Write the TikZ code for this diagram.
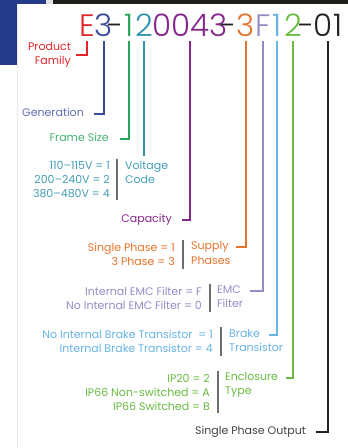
\documentclass[tikz,border=0pt]{standalone}
\usepackage{fontspec}
\setmainfont{Poppins}
\newfontfamily\lightfont{Poppins Light}
\usetikzlibrary{positioning}

\definecolor{frameBlue}{HTML}{263A8C}
\definecolor{photoDark}{HTML}{1E1E1A}
\definecolor{barGrey}{HTML}{6E6E6E}
\definecolor{cRed}{HTML}{E4252C}
\definecolor{cNavy}{HTML}{3A4A9E}
\definecolor{cGreen}{HTML}{25A65A}
\definecolor{cTeal}{HTML}{2F93B0}
\definecolor{cPurple}{HTML}{86288B}
\definecolor{cOrange}{HTML}{E8732B}
\definecolor{cLav}{HTML}{978AC5}
\definecolor{cSky}{HTML}{66B4E4}
\definecolor{cLime}{HTML}{69BC41}
\definecolor{cInk}{HTML}{222222}

\begin{document}
\begin{tikzpicture}[x=1pt, y=-1pt,
    font=\fontsize{11}{14}\selectfont,
    digit/.style={anchor=base, inner sep=0pt, font=\lightfont\fontsize{31}{31}\selectfont},
    lbl/.style={inner sep=0pt, anchor=mid east},
    ttl/.style={inner sep=0pt, anchor=mid west},
    val/.style={inner sep=0pt, anchor=east, align=right},
    hook/.style={line width=1.8pt, shorten <=5pt},
    bar/.style={line width=1.3pt, draw=barGrey}
  ]
  \useasboundingbox (0,0) rectangle (348,448);
  % backdrop
  \fill[white] (0,0) rectangle (348,448);
  \fill[frameBlue] (0,0) rectangle (46,65);
  \fill[black!12] (46,0) rectangle (53,4);
  \fill[photoDark] (53,0) rectangle (348,4);
  \fill[black!8] (17,4) rectangle (348,448);
  \fill[white] (18,4) rectangle (348,448);

  % model code
  \node[digit, text=cRed]    (cE)    at (87,36)  {E};
  \node[digit, text=cNavy]   (c3)    at (104,36) {3};
  \node[digit, text=cInk]    (d1)    at (116,36) {-};
  \node[digit, text=cGreen]  (c1)    at (129,36) {1};
  \node[digit, text=cTeal]   (c2)    at (144,36) {2};
  \node[digit, text=cPurple] (c0043) at (190,36) {0043};
  \node[digit, text=cInk]    (d2)    at (229,36) {-};
  \node[digit, text=cOrange] (c3o)   at (246,36) {3};
  \node[digit, text=cLav]    (cF)    at (263,36) {F};
  \node[digit, text=cSky]    (c1s)   at (277,36) {1};
  \node[digit, text=cLime]   (c2l)   at (293,36) {2};
  \node[digit, text=cInk]    (d3)    at (307,36) {-};
  \node[digit, text=cInk]    (c01)   at (328,36) {01};

  % labels
  \node[val, text=cRed] (prod) at (71,55) {Product\\Family};
  \node[lbl, text=cNavy!80] (gen) at (84,114) {Generation};
  \node[lbl, text=cGreen!85] (frm) at (109,139) {Frame Size};

  \node[val, text=cTeal!90] (volV) at (110,180) {110–115V = 1\\200–240V = 2\\380–480V = 4};
  \node[inner sep=0pt, anchor=west, align=left, text=cTeal!90] (volT) at (125,172.5) {Voltage\\Code};

  \node[lbl, text=cPurple] (cap) at (172,220) {Capacity};

  \node[val, text=cOrange] (supV) at (175,254.5) {Single Phase = 1\\3 Phase = 3};
  \node[ttl, text=cOrange] (supT1) at (191,247) {Supply};
  \node[ttl, text=cOrange] (supT2) at (191,262) {Phases};

  \node[val, text=cLav] (emcV) at (202,298) {Internal EMC Filter = F\\No Internal EMC Filter = 0};
  \node[ttl, text=cLav] (emcT1) at (217,291) {EMC};
  \node[ttl, text=cLav] (emcT2) at (217,305) {Filter};

  \node[val, text=cSky] (brkV) at (213,341.5) {No Internal Brake Transistor\ \ = 1\\Internal Brake Transistor = 4};
  \node[ttl, text=cSky] (brkT1) at (229,335) {Brake};
  \node[ttl, text=cSky] (brkT2) at (229,349) {Transistor};

  \node[val, text=cLime] (encV) at (210,392) {IP20 = 2\\IP66 Non-switched = A\\IP66 Switched = B};
  \node[ttl, text=cLime] (encT1) at (225,378) {Enclosure};
  \node[ttl, text=cLime] (encT2) at (225,392) {Type};

  \node[lbl, text=cInk!85] (out) at (306,432) {Single Phase Output};

  % separators
  \draw[bar] ([xshift=7pt,yshift=3pt]volV.north east) -- ([xshift=7pt,yshift=-2pt]volV.south east);
  \draw[bar] ([xshift=8pt,yshift=3pt]supV.north east) -- ([xshift=8pt,yshift=-3pt]supV.south east);
  \draw[bar] ([xshift=8pt,yshift=3pt]emcV.north east) -- ([xshift=8pt,yshift=-3pt]emcV.south east);
  \draw[bar] ([xshift=8pt,yshift=3pt]brkV.north east) -- ([xshift=8pt,yshift=-3pt]brkV.south east);
  \draw[bar] ([xshift=8pt,yshift=3pt]encV.north east) -- ([xshift=8pt,yshift=-3pt]encV.south east);

  % leaders
  \draw[hook, cRed]    (cE.south)    |- ([xshift=5pt]prod.east);
  \draw[hook, cNavy]   (c3.south)    |- ([xshift=10pt]gen.mid east);
  \draw[hook, cGreen]  (c1.south)    |- ([xshift=11pt]frm.mid east);
  \draw[hook, cTeal, shorten >=5pt] (c2.south) -- (c2.south |- volT.north);
  \draw[hook, cPurple] (c0043.south) |- ([xshift=10pt]cap.mid east);
  \draw[hook, cOrange] (c3o.south)   |- ([xshift=7pt]supT1.mid east);
  \draw[hook, cLav]    (cF.south)    |- ([xshift=9pt]emcT1.mid east);
  \draw[hook, cSky]    (c1s.south)   |- ([xshift=9pt]brkT1.mid east);
  \draw[hook, cLime]   (c2l.south)   |- ([xshift=8pt]encT1.mid east);
  \draw[hook, cInk]    (c01.south)   |- ([xshift=10pt]out.mid east);
\end{tikzpicture}
\end{document}
